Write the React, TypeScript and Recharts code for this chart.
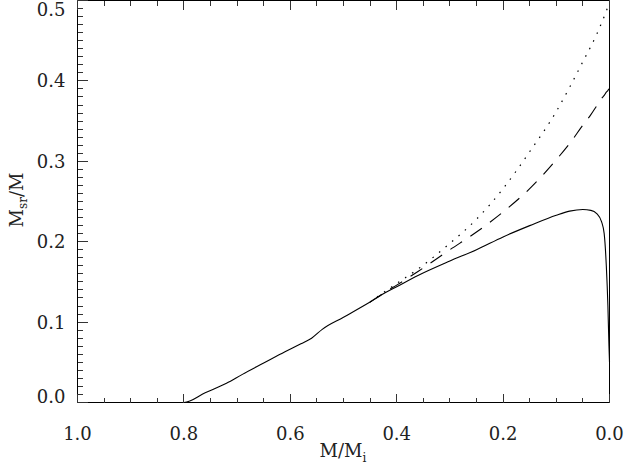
import { LineChart, Line, XAxis, YAxis } from 'recharts'

// M/Mi (runs from 1.0 down to 0.0)
const massFraction = [1.0, 0.9, 0.8, 0.76, 0.72, 0.69, 0.65, 0.61, 0.58, 0.56, 0.54, 0.5, 0.45, 0.42, 0.4, 0.36, 0.3, 0.25, 0.2, 0.15, 0.1, 0.075, 0.05, 0.035, 0.024, 0.015, 0.01, 0.006, 0.003, 0.001, 0.0]
// Msr/M, three cases
const solidRatio = [0, 0, 0, 0.012, 0.024, 0.035, 0.049, 0.063, 0.073, 0.08, 0.091, 0.106, 0.125, 0.137, 0.144, 0.158, 0.176, 0.19, 0.206, 0.22, 0.233, 0.238, 0.24, 0.239, 0.235, 0.225, 0.21, 0.17, 0.12, 0.07, 0.05]
const dashedRatio = [null, null, null, null, null, null, null, null, null, null, null, null, 0.125, 0.138, 0.146, 0.163, 0.19, 0.212, 0.237, 0.266, 0.302, 0.322, 0.345, 0.358, 0.369, 0.378, 0.382, 0.386, 0.388, 0.39, 0.39]
const dottedRatio = [null, null, null, null, null, null, null, null, null, null, null, null, 0.125, 0.139, 0.148, 0.166, 0.198, 0.228, 0.266, 0.312, 0.362, 0.392, 0.424, 0.443, 0.458, 0.472, 0.48, 0.487, 0.492, 0.495, 0.497]

const xMajorTicks = [1.0, 0.8, 0.6, 0.4, 0.2, 0.0]
const xAllTicks = [1.0, 0.95, 0.9, 0.85, 0.8, 0.75, 0.7, 0.65, 0.6, 0.55, 0.5, 0.45, 0.4, 0.35, 0.3, 0.25, 0.2, 0.15, 0.1, 0.05, 0.0]
const yMajorTicks = [0.0, 0.1, 0.2, 0.3, 0.4, 0.5]
const yAllTicks = Array.from({ length: 51 }, (_, i) => i / 100)

const data = massFraction.map((m, i) => ({
  m,
  solid: solidRatio[i],
  dashed: dashedRatio[i],
  dotted: dottedRatio[i],
}))

const FONT = '"DejaVu Serif", serif'
const TICK_COLOR = '#333'

const isMajor = (v: number, majors: number[]) => majors.some((t) => Math.abs(t - v) < 1e-6)

// ticks point into the plot, IDL style: long on majors, short on minors
function BottomTick(props: any) {
  const { x, y, payload } = props
  const major = isMajor(payload.value, xMajorTicks)
  const len = major ? 9 : 5
  return (
    <g>
      <line x1={x} y1={y} x2={x} y2={y - len} stroke={TICK_COLOR} strokeWidth={1} shapeRendering="crispEdges" />
      {major && (
        <text x={x} y={y + 37} textAnchor="middle" fontSize={18} fontFamily={FONT} fill="#222" stroke="none">
          {payload.value.toFixed(1)}
        </text>
      )}
    </g>
  )
}

function TopTick(props: any) {
  const { x, y, payload } = props
  const major = isMajor(payload.value, xMajorTicks)
  const len = major ? 9 : 5
  return <line x1={x} y1={y} x2={x} y2={y + len} stroke={TICK_COLOR} strokeWidth={1} shapeRendering="crispEdges" />
}

function LeftTick(props: any) {
  const { x, y, payload } = props
  const major = isMajor(payload.value, yMajorTicks)
  const len = major ? 10 : 5
  // keep end labels inside the frame
  const cy = Math.min(Math.max(y, 9), 396)
  return (
    <g>
      <line x1={x} y1={y} x2={x + len} y2={y} stroke={TICK_COLOR} strokeWidth={1} shapeRendering="crispEdges" />
      {major && (
        <text x={x - 12} y={cy + 6.5} textAnchor="end" fontSize={18} fontFamily={FONT} fill="#222" stroke="none">
          {payload.value.toFixed(1)}
        </text>
      )}
    </g>
  )
}

function RightTick(props: any) {
  const { x, y, payload } = props
  const major = isMajor(payload.value, yMajorTicks)
  const len = major ? 10 : 5
  return <line x1={x} y1={y} x2={x - len} y2={y} stroke={TICK_COLOR} strokeWidth={1} shapeRendering="crispEdges" />
}

export default function App() {
  return (
    <div style={{ position: 'absolute', left: 0, top: 0, width: 625, height: 466, background: '#fff' }}>
      <LineChart
        width={625}
        height={466}
        data={data}
        margin={{ top: 0, right: 14.5, bottom: 23.5, left: 17.5 }}
      >
        <XAxis
          xAxisId="bottom"
          dataKey="m"
          type="number"
          domain={[0, 1]}
          reversed
          ticks={xAllTicks}
          interval={0}
          height={40}
          tickSize={0}
          tickMargin={0}
          tickLine={false}
          tick={(p: any) => <BottomTick {...p} />}
          axisLine={{ stroke: '#000' }}
        />
        <XAxis
          xAxisId="top"
          orientation="top"
          dataKey="m"
          type="number"
          domain={[0, 1]}
          reversed
          ticks={xAllTicks}
          interval={0}
          height={0.5}
          tickSize={0}
          tickMargin={0}
          tickLine={false}
          tick={(p: any) => <TopTick {...p} />}
          axisLine={{ stroke: '#000' }}
        />
        <YAxis
          yAxisId="left"
          type="number"
          domain={[0, 0.5]}
          ticks={yAllTicks}
          interval={0}
          width={60}
          tickSize={0}
          tickMargin={0}
          tickLine={false}
          tick={(p: any) => <LeftTick {...p} />}
          axisLine={{ stroke: '#000' }}
        />
        <YAxis
          yAxisId="right"
          orientation="right"
          type="number"
          domain={[0, 0.5]}
          ticks={yAllTicks}
          interval={0}
          width={1}
          tickSize={0}
          tickMargin={0}
          tickLine={false}
          tick={(p: any) => <RightTick {...p} />}
          axisLine={{ stroke: '#000' }}
        />
        <Line
          xAxisId="bottom"
          yAxisId="left"
          dataKey="dotted"
          type="monotone"
          stroke="#000"
          strokeWidth={1.2}
          strokeDasharray="1.5 7"
          dot={false}
          activeDot={false}
          connectNulls
          isAnimationActive={false}
        />
        <Line
          xAxisId="bottom"
          yAxisId="left"
          dataKey="dashed"
          type="monotone"
          stroke="#000"
          strokeWidth={1.1}
          strokeDasharray="14 10"
          dot={false}
          activeDot={false}
          connectNulls
          isAnimationActive={false}
        />
        <Line
          xAxisId="bottom"
          yAxisId="left"
          dataKey="solid"
          type="monotone"
          stroke="#000"
          strokeWidth={1.1}
          dot={false}
          activeDot={false}
          isAnimationActive={false}
        />
      </LineChart>
      <div
        style={{
          position: 'absolute',
          left: 343,
          top: 441,
          transform: 'translateX(-50%)',
          fontFamily: FONT,
          fontSize: 18,
          color: '#222',
          whiteSpace: 'nowrap',
          lineHeight: '20px',
        }}
      >
        M/M<sub style={{ fontSize: 12, lineHeight: '12px' }}>i</sub>
      </div>
      <div
        style={{
          position: 'absolute',
          left: 20,
          top: 200,
          transform: 'translate(-50%, -50%) rotate(-90deg)',
          fontFamily: FONT,
          fontSize: 18,
          color: '#222',
          whiteSpace: 'nowrap',
          lineHeight: '20px',
        }}
      >
        M<sub style={{ fontSize: 12 }}>sr</sub>/M
      </div>
    </div>
  )
}
